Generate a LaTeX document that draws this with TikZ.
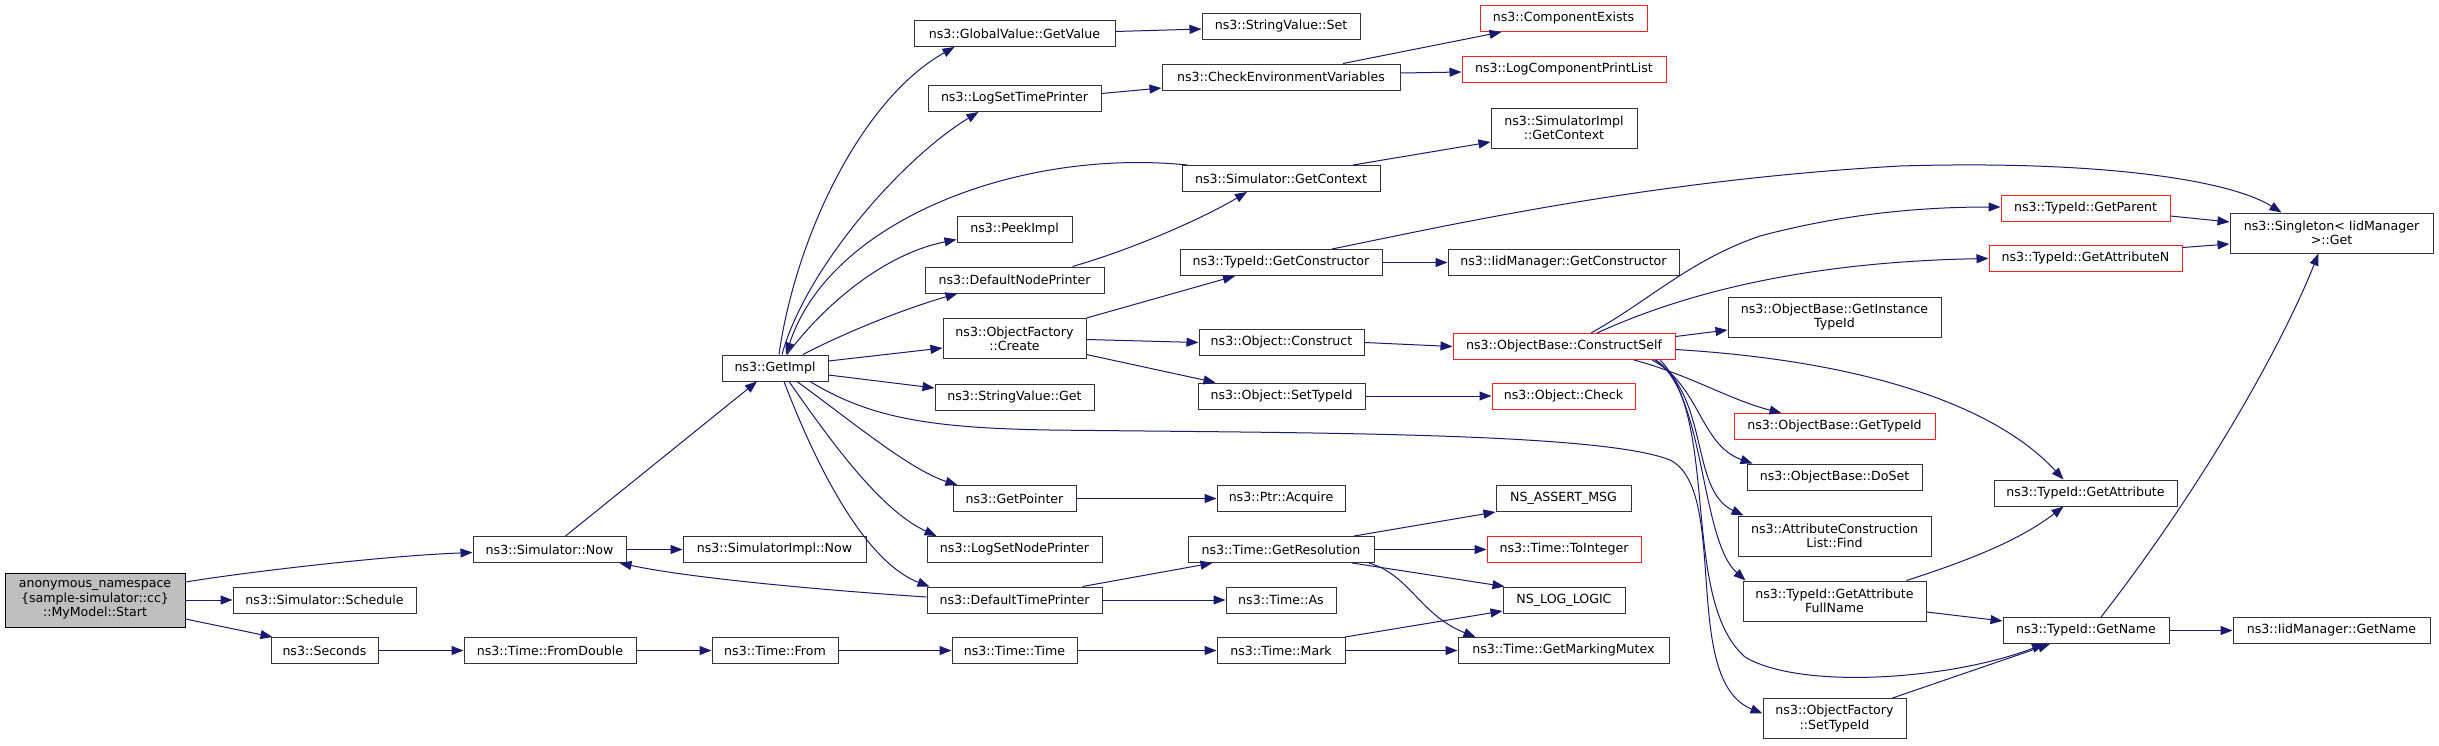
\documentclass[tikz,border=0pt]{standalone}
\usepackage{fontspec}
\setmainfont{DejaVu Sans}
\usetikzlibrary{arrows.meta}
\definecolor{edgeblue}{HTML}{191970}
\definecolor{nodegray}{HTML}{333333}
\definecolor{truncred}{HTML}{FF2020}
\definecolor{startfill}{HTML}{BFBFBF}
\begin{document}
\begin{tikzpicture}[x=1pt,y=-1pt,
  nd/.style={draw=nodegray, line width=1pt, fill=white, inner sep=0pt, align=center,
    font=\fontsize{12.6}{14.3}\selectfont},
  rd/.style={nd, draw=truncred},
  ed/.style={draw=edgeblue, line width=1pt, -{Triangle[length=12pt,width=9pt]}}]
\useasboundingbox (0,0) rectangle (2439,745);
\fill[white] (0,0) rectangle (2439,745);
% rank 0
\node[nd, draw=black, fill=startfill, minimum width=180pt, minimum height=54pt] (start) at (95,600) {anonymous\_namespace\\\{sample-simulator::cc\}\\::MyModel::Start};
% rank 1
\node[nd, minimum width=183pt, minimum height=26pt] (sched) at (324.5,600) {ns3::Simulator::Schedule};
\node[nd, minimum width=107pt, minimum height=26pt] (secs) at (324.5,650.5) {ns3::Seconds};
\node[nd, minimum width=153pt, minimum height=26pt] (simnow) at (549.5,549.5) {ns3::Simulator::Now};
\node[nd, minimum width=172pt, minimum height=26pt] (fromdouble) at (550,650.5) {ns3::Time::FromDouble};
% rank 2
\node[nd, minimum width=183pt, minimum height=26pt] (simimplnow) at (774.5,549.5) {ns3::SimulatorImpl::Now};
\node[nd, minimum width=126pt, minimum height=26pt] (from) at (775,650.5) {ns3::Time::From};
\node[nd, minimum width=106pt, minimum height=26pt] (getimpl) at (775,368) {ns3::GetImpl};
% rank 3
\node[nd, minimum width=125pt, minimum height=26pt] (ttime) at (1014.5,650.5) {ns3::Time::Time};
\node[nd, minimum width=175pt, minimum height=26pt] (deftp) at (1014.5,600) {ns3::DefaultTimePrinter};
\node[nd, minimum width=175pt, minimum height=26pt] (lsnp) at (1014.5,549.5) {ns3::LogSetNodePrinter};
\node[nd, minimum width=123pt, minimum height=26pt] (getptr) at (1014.5,498.5) {ns3::GetPointer};
\node[nd, minimum width=159pt, minimum height=26pt] (svget) at (1014.5,397) {ns3::StringValue::Get};
\node[nd, minimum width=143pt, minimum height=40pt] (create) at (1014.5,338.5) {ns3::ObjectFactory\\::Create};
\node[nd, minimum width=179pt, minimum height=26pt] (defnp) at (1014.5,280) {ns3::DefaultNodePrinter};
\node[nd, minimum width=115pt, minimum height=26pt] (peek) at (1014.5,229.5) {ns3::PeekImpl};
\node[nd, minimum width=173pt, minimum height=26pt] (lstp) at (1014.5,98.5) {ns3::LogSetTimePrinter};
\node[nd, minimum width=201pt, minimum height=26pt] (gvget) at (1014.5,33.5) {ns3::GlobalValue::GetValue};
% rank 4
\node[nd, minimum width=158pt, minimum height=26pt] (svset) at (1281,26.5) {ns3::StringValue::Set};
\node[nd, minimum width=238pt, minimum height=26pt] (checkenv) at (1281,77) {ns3::CheckEnvironmentVariables};
\node[nd, minimum width=198pt, minimum height=26pt] (simgc) at (1281,178.5) {ns3::Simulator::GetContext};
\node[nd, minimum width=202pt, minimum height=26pt] (getctor) at (1281,262.5) {ns3::TypeId::GetConstructor};
\node[nd, minimum width=165pt, minimum height=26pt] (objconstruct) at (1281.5,342.5) {ns3::Object::Construct};
\node[nd, minimum width=167pt, minimum height=26pt] (objsettid) at (1281.5,396) {ns3::Object::SetTypeId};
\node[nd, minimum width=128pt, minimum height=26pt] (ptracq) at (1281,498.5) {ns3::Ptr::Acquire};
\node[nd, minimum width=186pt, minimum height=26pt] (getres) at (1281,549.5) {ns3::Time::GetResolution};
\node[nd, minimum width=110pt, minimum height=26pt] (timeas) at (1281,600) {ns3::Time::As};
\node[nd, minimum width=128pt, minimum height=26pt] (timemark) at (1281,650.5) {ns3::Time::Mark};
% rank 5
\node[rd, minimum width=167pt, minimum height=26pt] (compexists) at (1563.5,18.5) {ns3::ComponentExists};
\node[rd, minimum width=204pt, minimum height=26pt] (lcpl) at (1564,69.5) {ns3::LogComponentPrintList};
\node[nd, minimum width=146pt, minimum height=40pt] (simimplgc) at (1564,128) {ns3::SimulatorImpl\\::GetContext};
\node[nd, minimum width=231pt, minimum height=26pt] (iidgetctor) at (1563.5,262.5) {ns3::IidManager::GetConstructor};
\node[rd, minimum width=222pt, minimum height=26pt] (cself) at (1564,346.5) {ns3::ObjectBase::ConstructSelf};
\node[rd, minimum width=143pt, minimum height=26pt] (objcheck) at (1563.5,396) {ns3::Object::Check};
\node[nd, minimum width=135pt, minimum height=26pt] (nsassert) at (1563.5,498.5) {NS\_ASSERT\_MSG};
\node[rd, minimum width=154pt, minimum height=26pt] (toint) at (1564,549.5) {ns3::Time::ToInteger};
\node[nd, minimum width=122pt, minimum height=26pt] (nslog) at (1564,600) {NS\_LOG\_LOGIC};
\node[nd, minimum width=211pt, minimum height=26pt] (markmutex) at (1563.5,650.5) {ns3::Time::GetMarkingMutex};
% rank 6
\node[nd, minimum width=213pt, minimum height=40pt] (instid) at (1834.5,317) {ns3::ObjectBase::GetInstance\\TypeId};
\node[rd, minimum width=201pt, minimum height=26pt] (gettid) at (1834.5,426.5) {ns3::ObjectBase::GetTypeId};
\node[nd, minimum width=175pt, minimum height=26pt] (doset) at (1834.5,477) {ns3::ObjectBase::DoSet};
\node[nd, minimum width=193pt, minimum height=40pt] (aclfind) at (1834.5,536) {ns3::AttributeConstruction\\List::Find};
\node[nd, minimum width=183pt, minimum height=40pt] (attrfull) at (1834.5,601) {ns3::TypeId::GetAttribute\\FullName};
\node[nd, minimum width=143pt, minimum height=40pt] (ofsettid) at (1834.5,718.5) {ns3::ObjectFactory\\::SetTypeId};
% rank 7
\node[rd, minimum width=169pt, minimum height=26pt] (getparent) at (2085.5,208) {ns3::TypeId::GetParent};
\node[rd, minimum width=193pt, minimum height=26pt] (getattrn) at (2085.5,258.5) {ns3::TypeId::GetAttributeN};
\node[nd, minimum width=183pt, minimum height=26pt] (getattr) at (2085.5,493) {ns3::TypeId::GetAttribute};
\node[nd, minimum width=166pt, minimum height=26pt] (getname) at (2086,630.5) {ns3::TypeId::GetName};
% rank 8
\node[nd, minimum width=203pt, minimum height=40pt] (singleton) at (2331.5,233) {ns3::Singleton< IidManager\\>::Get};
\node[nd, minimum width=197pt, minimum height=26pt] (iidgetname) at (2331.5,630.5) {ns3::IidManager::GetName};

% ---- edges ----
\draw[ed] ([yshift=18pt]start.east) .. controls (240,573) and (380,556) .. ([yshift=-3pt]simnow.west);
\draw[ed] (start.east) -- (sched.west);
\draw[ed] ([yshift=-19pt]start.east) -- ([xshift=2pt]secs.north west);
\draw[ed] (simnow.east) -- (simimplnow.west);
\draw[ed] ([xshift=16pt]simnow.north) -- ([xshift=-18pt]getimpl.south);
\draw[ed] (secs.east) -- (fromdouble.west);
\draw[ed] (fromdouble.east) -- (from.west);
\draw[ed] (from.east) -- (ttime.west);
\draw[ed] (ttime.east) -- (timemark.west);
\draw[ed] (timemark.east) -- (markmutex.west);
\draw[ed] ([yshift=3pt]deftp.west) .. controls (820,590) and (690,578) .. ([xshift=70pt]simnow.south);
% GetImpl fan
\draw[ed] ([xshift=4pt]getimpl.north) .. controls (795,240) and (860,100) .. ([xshift=-60pt]gvget.south);
\draw[ed] ([xshift=7pt]getimpl.north) .. controls (805,270) and (900,160) .. ([xshift=-36pt]lstp.south);
\draw[ed] ([xshift=6pt]simgc.north west) .. controls (1020,148) and (830,220) .. ([xshift=11pt]getimpl.north);
\draw[ed] ([xshift=12pt]getimpl.north) .. controls (820,310) and (880,255) .. ([yshift=-10pt]peek.west);
\draw[ed] ([xshift=28pt]getimpl.north) .. controls (840,335) and (900,310) .. ([xshift=33pt]defnp.south west);
\draw[ed] ([yshift=7pt]getimpl.east) -- ([yshift=-9.5pt]create.west);
\draw[ed] ([yshift=-7pt]getimpl.east) -- ([yshift=9pt]svget.west);
\draw[ed] ([xshift=22pt]getimpl.south) .. controls (850,420) and (910,470) .. ([xshift=5pt]getptr.north west);
\draw[ed] ([xshift=14pt]getimpl.south) .. controls (830,440) and (880,510) .. ([xshift=10pt]lsnp.north west);
\draw[ed] ([xshift=9pt]getimpl.south) .. controls (810,450) and (860,560) .. ([xshift=3pt]deftp.north west);
\draw[ed] ([xshift=35pt]getimpl.south) .. controls (870,418) and (930,428) .. (1050,430)
   .. controls (1300,433) and (1600,432) .. (1670,460)
   .. controls (1730,490) and (1680,680) .. ([yshift=5pt]ofsettid.west);
% rank 3 -> 4
\draw[ed] ([yshift=2pt]gvget.east) -- ([yshift=-2.5pt]svset.west);
\draw[ed] ([yshift=5pt]lstp.east) -- ([yshift=-11pt]checkenv.west);
\draw[ed] ([xshift=58pt]defnp.north) .. controls (1130,250) and (1200,220) .. ([xshift=-34pt]simgc.south);
\draw[ed] (create.north east) -- ([xshift=-46pt]getctor.south);
\draw[ed] ([yshift=-1pt]create.east) -- (objconstruct.west);
\draw[ed] ([yshift=-16pt]create.east) -- ([xshift=18pt]objsettid.north west);
\draw[ed] (getptr.east) -- (ptracq.west);
\draw[ed] ([xshift=68pt]deftp.north) -- ([xshift=25pt]getres.south west);
\draw[ed] (deftp.east) -- (timeas.west);
% rank 4 -> 5
\draw[ed] ([xshift=62pt]checkenv.north) -- ([xshift=22pt]compexists.south west);
\draw[ed] ([yshift=4pt]checkenv.east) -- ([yshift=-2.5pt]lcpl.west);
\draw[ed] ([xshift=72pt]simgc.north) -- ([yshift=-14pt]simimplgc.west);
\draw[ed] (getctor.east) -- (iidgetctor.west);
\draw[ed] (objconstruct.east) -- (cself.west);
\draw[ed] (objsettid.east) -- (objcheck.west);
\draw[ed] ([xshift=73pt]getres.north) -- (nsassert.south west);
\draw[ed] (getres.east) -- (toint.west);
\draw[ed] ([xshift=71pt]getres.south) -- ([xshift=2pt]nslog.north west);
\draw[ed] ([xshift=88pt]getres.south) .. controls (1410,575) and (1420,615) .. ([xshift=18pt]markmutex.north west);
\draw[ed] ([xshift=64pt]timemark.north) -- ([yshift=-11pt]nslog.west);
\draw[ed] ([xshift=51pt]getctor.north) .. controls (1450,225) and (1650,180) .. (1900,166)
   .. controls (2100,160) and (2230,180) .. ([xshift=-50pt]singleton.north);
% ConstructSelf fan
\draw[ed] ([xshift=27pt]cself.north) .. controls (1650,300) and (1690,260) .. (1760,236)
   .. controls (1850,212) and (1930,207) .. ([yshift=1pt]getparent.west);
\draw[ed] ([xshift=33pt]cself.north) .. controls (1680,295) and (1800,262) .. (getattrn.west);
\draw[ed] ([yshift=10pt]cself.east) -- ([yshift=-13pt]instid.west);
\draw[ed] ([yshift=-3pt]cself.east) .. controls (1850,360) and (1990,400) .. ([xshift=-22pt]getattr.north);
\draw[ed] ([xshift=70pt]cself.south) .. controls (1690,375) and (1730,400) .. ([xshift=48pt]gettid.north west);
\draw[ed] ([xshift=88pt]cself.south) .. controls (1700,385) and (1700,445) .. ([xshift=6pt]doset.north west);
\draw[ed] ([xshift=92pt]cself.south) .. controls (1710,400) and (1690,490) .. ([xshift=6pt]aclfind.north west);
\draw[ed] ([xshift=91pt]cself.south) .. controls (1705,390) and (1700,540) .. ([xshift=3pt]attrfull.north west);
\draw[ed] ([xshift=96pt]cself.south) .. controls (1720,420) and (1680,600) .. (1745,657)
   .. controls (1800,690) and (1950,680) .. ([xshift=-42pt]getname.south);
% rank 6 -> 7/8
\draw[ed] ([xshift=72pt]attrfull.north) .. controls (1970,560) and (2020,540) .. ([xshift=-22pt]getattr.south);
\draw[ed] ([yshift=-11pt]attrfull.east) -- ([yshift=9.5pt]getname.west);
\draw[ed] ([xshift=58pt]ofsettid.north) -- ([xshift=-36pt]getname.south);
\draw[ed] ([yshift=-8pt]getparent.east) -- ([yshift=11pt]singleton.west);
\draw[ed] ([yshift=11pt]getattrn.east) -- ([yshift=-11pt]singleton.west);
\draw[ed] ([xshift=15pt]getname.north) .. controls (2200,490) and (2280,350) .. ([xshift=-13pt]singleton.south);
\draw[ed] (getname.east) -- (iidgetname.west);
\end{tikzpicture}
\end{document}
